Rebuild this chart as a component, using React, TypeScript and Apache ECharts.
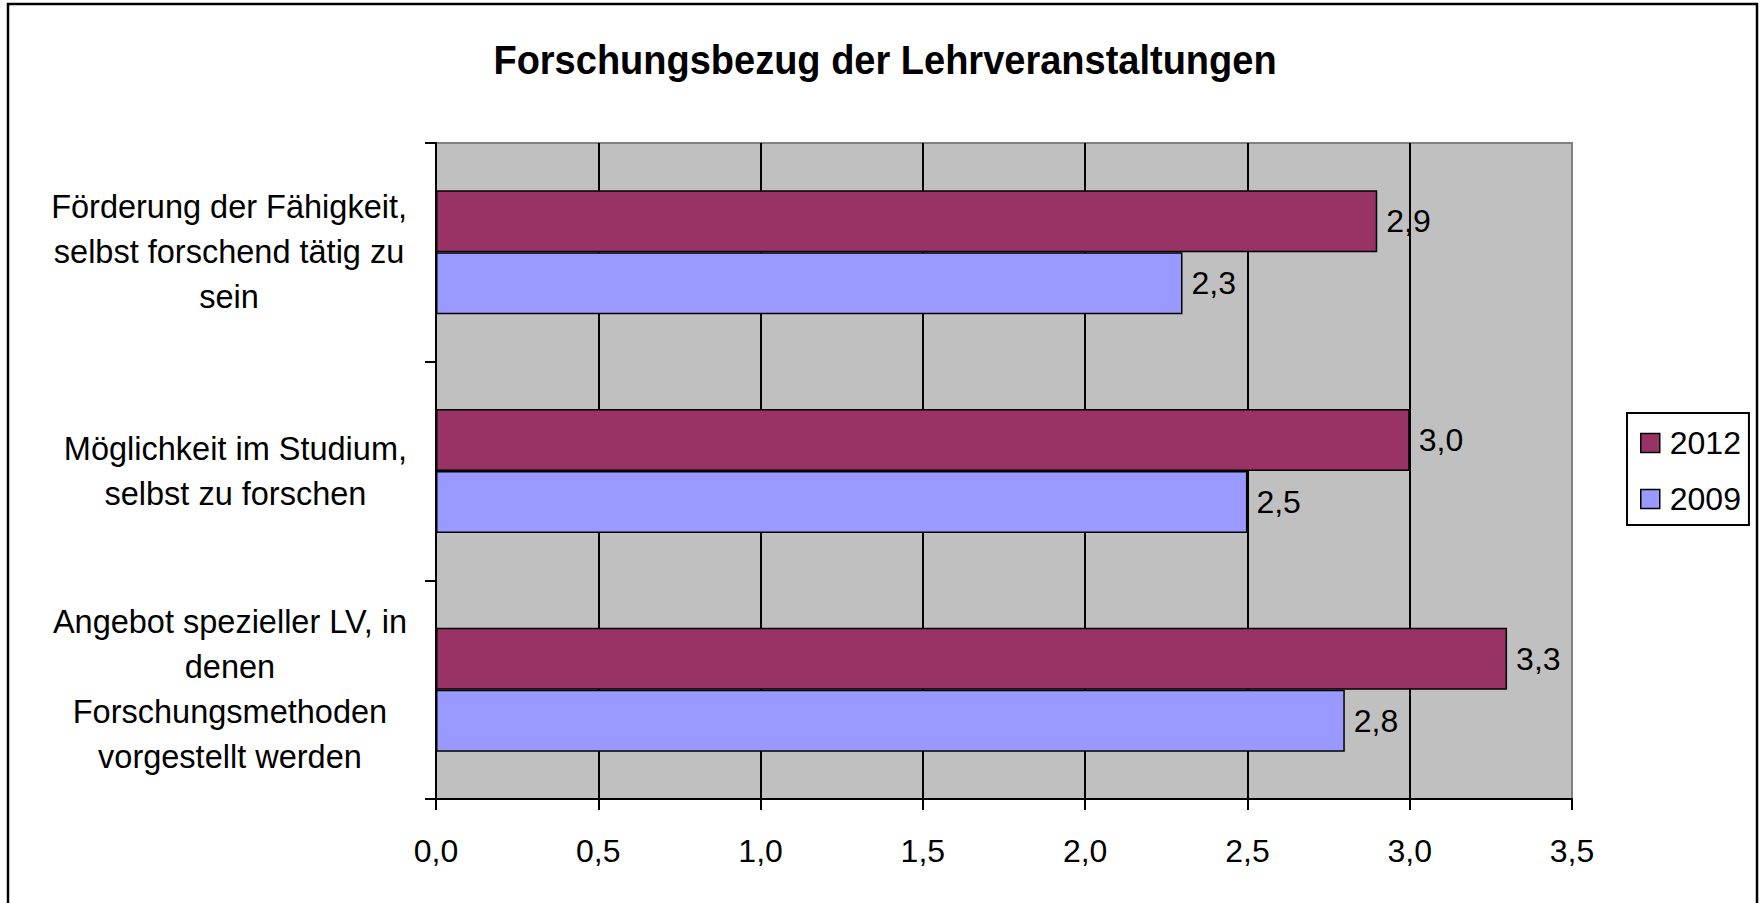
import React, { useEffect, useRef } from "react";
import * as echarts from "echarts";

const categories = [
  "Förderung der Fähigkeit,\nselbst forschend tätig zu\nsein",
  "Möglichkeit im Studium,\nselbst zu forschen",
  "Angebot spezieller LV, in\ndenen\nForschungsmethoden\nvorgestellt werden",
];
const series2012 = [2.9, 3.0, 3.3];
const series2009 = [2.3, 2.5, 2.8];
const seriesNames = ["2012", "2009"];
const xTicks = { min: 0, max: 3.5, interval: 0.5 };
const titleText = "Forschungsbezug der Lehrveranstaltungen";

const FONT = "'Liberation Sans', Arial, sans-serif";
const fmt = (v: number) => v.toFixed(1).replace(".", ",");

export default function App() {
  const ref = useRef<HTMLDivElement>(null);
  useEffect(() => {
    if (!ref.current) return;
    const chart = echarts.init(ref.current, null, { renderer: "svg" });
    chart.setOption({
      animation: false,
      backgroundColor: "#ffffff",
      textStyle: { fontFamily: FONT },
      graphic: [
        {
          type: "rect",
          silent: true,
          z: 0,
          shape: { x: 8, y: 4, width: 1749, height: 1000 },
          style: { fill: "none", stroke: "#000", lineWidth: 2.5 },
        },
        {
          type: "text",
          silent: true,
          x: 885,
          y: 60,
          scaleY: 1.07,
          style: {
            text: titleText,
            font: `bold 38px ${FONT}`,
            fill: "#000",
            textAlign: "center",
            textVerticalAlign: "middle",
          },
        },
      ],
      grid: {
        left: 436,
        top: 143,
        right: 188,
        bottom: 104,
        show: true,
        backgroundColor: "#C0C0C0",
        borderColor: "#808080",
        borderWidth: 2,
      },
      legend: {
        orient: "vertical",
        left: 1627,
        top: 413,
        data: seriesNames,
        icon: "rect",
        itemWidth: 19,
        itemHeight: 19,
        itemGap: 24,
        padding: [14, 8, 10, 13],
        borderColor: "#000",
        borderWidth: 2,
        backgroundColor: "#fff",
        itemStyle: { borderColor: "#000", borderWidth: 1.5 },
        textStyle: { fontSize: 32, color: "#000", fontFamily: FONT, padding: [0, 0, 0, 5] },
      },
      xAxis: {
        type: "value",
        min: xTicks.min,
        max: xTicks.max,
        interval: xTicks.interval,
        axisLine: { show: true, lineStyle: { color: "#000", width: 2 } },
        axisTick: { show: true, length: 11, lineStyle: { color: "#000", width: 2 } },
        splitLine: { show: true, showMaxLine: false, lineStyle: { color: "#000", width: 2 } },
        axisLabel: {
          formatter: (v: number) => fmt(v),
          fontSize: 32,
          color: "#000",
          margin: 36,
          fontFamily: FONT,
        },
      },
      yAxis: {
        type: "category",
        inverse: true,
        data: categories,
        axisLine: { show: true, lineStyle: { color: "#000", width: 2 } },
        axisTick: { show: true, length: 11, lineStyle: { color: "#000", width: 2 } },
        splitLine: { show: false },
        axisLabel: {
          margin: 29,
          align: "right",
          color: "#000",
          fontSize: 32.5,
          lineHeight: 45,
          fontFamily: FONT,
          formatter: (v: string) =>
            v
              .split("\n")
              .map((l) => `{c|${l}}`)
              .join("\n"),
          rich: {
            c: { align: "center", fontSize: 32.5, lineHeight: 45, color: "#000", fontFamily: FONT },
          },
        },
      },
      series: [
        {
          name: seriesNames[0],
          type: "bar",
          data: series2012,
          barWidth: 62,
          barGap: "0%",
          itemStyle: { color: "#993366", borderColor: "#000", borderWidth: 1.5 },
          label: {
            show: true,
            position: "right",
            distance: 9,
            fontSize: 32,
            color: "#000",
            fontFamily: FONT,
            formatter: (p: any) => fmt(p.value),
          },
        },
        {
          name: seriesNames[1],
          type: "bar",
          data: series2009,
          barWidth: 62,
          barGap: "0%",
          itemStyle: { color: "#9999FF", borderColor: "#000", borderWidth: 1.5 },
          label: {
            show: true,
            position: "right",
            distance: 9,
            fontSize: 32,
            color: "#000",
            fontFamily: FONT,
            formatter: (p: any) => fmt(p.value),
          },
        },
      ],
    });
    return () => chart.dispose();
  }, []);
  return (
    <div
      ref={ref}
      style={{ position: "fixed", left: 0, top: 0, width: 1760, height: 903 }}
    />
  );
}
